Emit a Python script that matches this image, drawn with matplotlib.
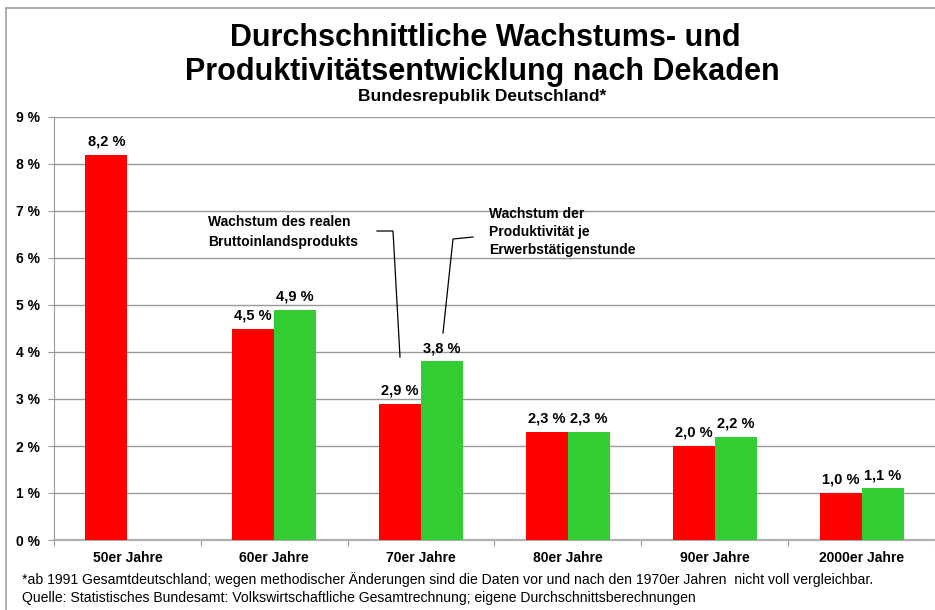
import matplotlib.pyplot as plt
import numpy as np

plt.rcParams['font.family'] = ['Liberation Sans', 'DejaVu Sans']

# data
dekaden = ["50er Jahre", "60er Jahre", "70er Jahre", "80er Jahre", "90er Jahre", "2000er Jahre"]
bip = [8.2, 4.5, 2.9, 2.3, 2.0, 1.0]
produktivitaet = [None, 4.9, 3.8, 2.3, 2.2, 1.1]
yticks = [0, 1, 2, 3, 4, 5, 6, 7, 8, 9]

W, H = 935, 610
fig = plt.figure(figsize=(W / 100, H / 100), dpi=100)

# gray frame (only left and top visible in the cropped original)
fig.add_artist(plt.Line2D([5.5 / W, 5.5 / W], [0, 1 - 7.5 / H], color="#a0a0a0", lw=1.2))
fig.add_artist(plt.Line2D([5.5 / W, 1], [1 - 7.5 / H, 1 - 7.5 / H], color="#a0a0a0", lw=1.2))

left, right, bottom, top = 54, 935, 540, 117
ax = fig.add_axes([left / W, 1 - bottom / H, (right - left) / W, (bottom - top) / H])

step = 148.5
x = np.arange(len(dekaden))
bw = 42.5 / step

ax.bar(x - bw / 2, bip, width=bw, color="#ff0000", zorder=3)
gx = [xi + bw / 2 for xi, v in zip(x, produktivitaet) if v is not None]
gv = [v for v in produktivitaet if v is not None]
ax.bar(gx, gv, width=bw, color="#33cc33", zorder=3)

for xi, v in zip(x, bip):
    ax.text(xi - bw / 2, v + 0.13, f"{v:.1f} %".replace(".", ","), ha="center", va="bottom",
            fontsize=10.5, fontweight="bold")
for xi, v in zip(gx, gv):
    ax.text(xi, v + 0.13, f"{v:.1f} %".replace(".", ","), ha="center", va="bottom",
            fontsize=10.5, fontweight="bold")

ax.set_ylim(0, 9)
ax.set_xlim(-0.5, -0.5 + (right - left) / step)
ax.set_yticks(yticks)
ax.set_yticklabels([f"{t} %" for t in yticks], fontsize=10, fontweight="bold")
ax.yaxis.grid(True, color="#999999", lw=1, zorder=0)
ax.set_axisbelow(True)

# categories as minor ticks, boundaries as major ticks
ax.set_xticks(np.arange(len(dekaden) + 1) - 0.5)
ax.set_xticklabels([])
ax.set_xticks(x, minor=True)
ax.set_xticklabels(dekaden, minor=True, fontsize=10, fontweight="bold")
ax.tick_params(axis="x", which="minor", length=0, pad=8)
ax.tick_params(axis="x", which="major", length=4, color="#999999", direction="out")
ax.tick_params(axis="y", length=4, color="#999999", pad=6)

for s in ["top", "right"]:
    ax.spines[s].set_visible(False)
ax.spines["left"].set_color("#999999")
ax.spines["bottom"].set_color("#b0b0b0")
ax.spines["bottom"].set_linewidth(1.6)

# annotation labels with leader lines (in pixel coords)
def px(xp, yp):
    return (xp / W, 1 - yp / H)

fig.text(*px(208, 232), "Wachstum des realen\nBruttoinlandsprodukts", ha="left", va="center",
         fontsize=10, fontweight="bold", linespacing=1.55)
fig.text(*px(489, 232), "Wachstum der\nProduktivität je\nErwerbstätigenstunde", ha="left", va="center",
         fontsize=10, fontweight="bold", linespacing=1.4)
l1 = [px(377, 231), px(393, 231), px(400, 357)]
l2 = [px(473, 237), px(453, 239), px(443, 333)]
for pts in (l1, l2):
    fig.add_artist(plt.Line2D([p[0] for p in pts], [p[1] for p in pts], color="black", lw=0.9))

# titles
fig.text(*px(485, 38), "Durchschnittliche Wachstums- und", ha="center", va="center",
         fontsize=22, fontweight="bold")
fig.text(*px(482, 72), "Produktivitätsentwicklung nach Dekaden", ha="center", va="center",
         fontsize=22, fontweight="bold")
fig.text(*px(482, 97), "Bundesrepublik Deutschland*", ha="center", va="center",
         fontsize=12.5, fontweight="bold")

# footnotes
fig.text(*px(22, 580), "*ab 1991 Gesamtdeutschland; wegen methodischer Änderungen sind die Daten vor und nach den 1970er Jahren  nicht voll vergleichbar.",
         ha="left", va="center", fontsize=10.1)
fig.text(*px(22, 598), "Quelle: Statistisches Bundesamt: Volkswirtschaftliche Gesamtrechnung; eigene Durchschnittsberechnungen",
         ha="left", va="center", fontsize=10.1)

fig.savefig("out.png", dpi=100)
